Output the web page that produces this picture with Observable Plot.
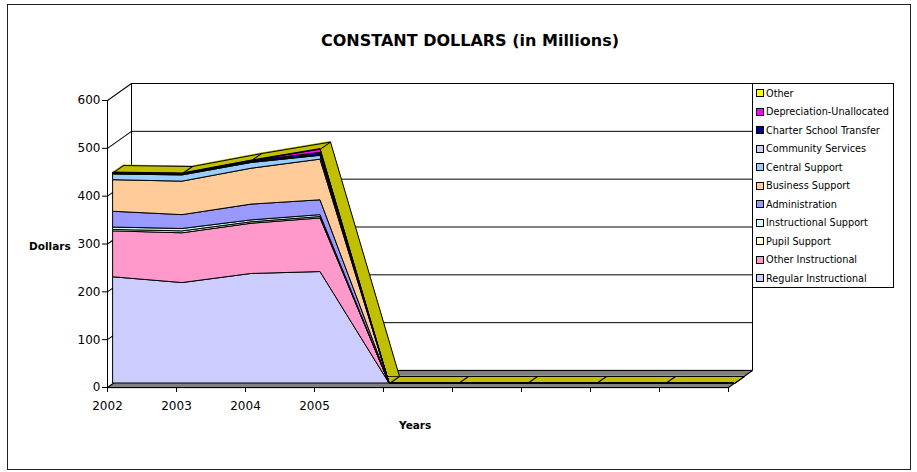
<!DOCTYPE html>
<html>
<head>
<meta charset="utf-8">
<script src="https://cdn.jsdelivr.net/npm/d3@7"></script>
<script src="https://cdn.jsdelivr.net/npm/@observablehq/plot@0.6"></script>
<style>
  html, body { margin: 0; padding: 0; background: #fff; }
  #chart { position: relative; width: 917px; height: 472px; font-family: "DejaVu Sans", sans-serif; color: #000; overflow: hidden; }
  #frame { position: absolute; left: 7px; top: 4px; width: 904px; height: 466px; border: 1px solid #222; box-sizing: border-box; }
  #plot { position: absolute; left: 0; top: 0; }
  .lbl { position: absolute; font-weight: bold; white-space: nowrap; }
  #title { left: 0; width: 940px; top: 31px; text-align: center; font-size: 16px; }
  #ylab { left: 29px; top: 240px; font-size: 10.5px; }
  #xlab { left: 399px; top: 419px; font-size: 10.5px; }
  #legend { position: absolute; left: 752px; top: 83px; width: 142px; height: 205px; border: 1px solid #000; box-sizing: border-box; padding-top: 0px; background: #fff; }
  .row { height: 18.5px; display: flex; align-items: center; font-size: 9.7px; white-space: nowrap; }
  .sw { width: 6px; height: 6px; border: 1px solid #000; margin: 0 2px 0 3px; flex: none; }
</style>
</head>
<body>
<div id="chart">
  <div id="frame"></div>
  <div id="plot"></div>
  <div id="title" class="lbl">CONSTANT DOLLARS (in Millions)</div>
  <div id="ylab" class="lbl">Dollars</div>
  <div id="xlab" class="lbl">Years</div>
  <div id="legend"></div>
</div>
<script>
// ---- data ----
const categories = ["2002", "2003", "2004", "2005", "", "", "", "", "", ""];
const seriesNames = [
  "Regular Instructional", "Other Instructional", "Pupil Support", "Instructional Support",
  "Administration", "Business Support", "Central Support", "Community Services",
  "Charter School Transfer", "Depreciation-Unallocated", "Other"
];
const regularInstructional   = [222, 210, 229, 233, 0, 0, 0, 0, 0, 0];
const otherInstructional     = [96, 104, 105, 112, 0, 0, 0, 0, 0, 0];
const pupilSupport           = [3, 4, 3, 3, 0, 0, 0, 0, 0, 0];
const instructionalSupport   = [5, 5, 4, 4, 0, 0, 0, 0, 0, 0];
const administration         = [33, 29, 33, 31, 0, 0, 0, 0, 0, 0];
const businessSupport        = [66, 70, 75, 85, 0, 0, 0, 0, 0, 0];
const centralSupport         = [12, 13, 12, 8, 0, 0, 0, 0, 0, 0];
const communityServices      = [1, 1, 1, 1, 0, 0, 0, 0, 0, 0];
const charterSchoolTransfer  = [2, 2, 3, 5, 0, 0, 0, 0, 0, 0];
const depreciationUnalloc    = [0, 0, 0, 7, 0, 0, 0, 0, 0, 0];
const other                  = [1, 1, 1, 1, 0, 0, 0, 0, 0, 0];
const yTicks = [0, 100, 200, 300, 400, 500, 600];
const colors = ["#ccccff", "#ff99cc", "#ffffcc", "#ccffff", "#9999ff", "#ffcc99",
                "#99ccff", "#ccccff", "#000080", "#ff00ff", "#ffff00"];

const seriesValues = [regularInstructional, otherInstructional, pupilSupport, instructionalSupport,
  administration, businessSupport, centralSupport, communityServices, charterSchoolTransfer,
  depreciationUnalloc, other];

// long table, bottom series first
const rows = [];
seriesNames.forEach((s, k) => seriesValues[k].forEach((v, i) => rows.push({i, series: s, value: v})));
const totals = categories.map((c, i) => ({i, total: d3.sum(seriesValues, arr => arr[i])}));
const idx = d3.range(categories.length);

// ---- 3D projection offsets (pixels) ----
const wall = {dx: 24, dy: -17};   // back wall depth
const front = {dx: 6, dy: -4};    // area front face
const depth = {dx: 10, dy: -7};   // area thickness
const seg = {draw(ctx, l) { ctx.moveTo(0, 0); ctx.lineTo(0, -l); }};
const ang = (o) => Math.atan2(o.dx, -o.dy) * 180 / Math.PI;
const len = (o) => Math.hypot(o.dx, o.dy);

const marks = [];
// floor (gray slab)
for (let k = 0; k <= 17; k++) {
  marks.push(Plot.ruleY([0], {x1: 0, x2: categories.length - 1, dx: wall.dx * k / 17, dy: wall.dy * k / 17, stroke: "#808080", strokeWidth: 1.6}));
}
// back wall gridlines and edges
marks.push(Plot.ruleY(yTicks, {x1: 0, x2: categories.length - 1, dx: wall.dx, dy: wall.dy, stroke: "#000"}));
marks.push(Plot.ruleX([0, categories.length - 1], {y1: 0, y2: 600, dx: wall.dx, dy: wall.dy, stroke: "#000"}));
// side wall diagonals
marks.push(Plot.vector(yTicks, {x: 0, y: d => d, length: len(wall), rotate: ang(wall), anchor: "start", shape: seg, stroke: "#000", strokeWidth: 1}));
marks.push(Plot.vector([0], {x: categories.length - 1, y: d => d, length: len(wall), rotate: ang(wall), anchor: "start", shape: seg, stroke: "#000", strokeWidth: 1}));
// front axis lines
marks.push(Plot.ruleX([0], {y1: 0, y2: 600, stroke: "#000"}));
marks.push(Plot.ruleY([0], {x1: 0, x2: categories.length - 1, stroke: "#000"}));

// top face sweep (olive)
const N = 12;
for (let k = 1; k <= N; k++) {
  marks.push(Plot.areaY(totals, {x: "i", y: "total", dx: front.dx + depth.dx * k / N, dy: front.dy + depth.dy * k / N, fill: "#c0c000", stroke: "#c0c000", strokeWidth: 1.2}));
}
// top face outlines
marks.push(Plot.lineY(totals, {x: "i", y: "total", dx: front.dx + depth.dx, dy: front.dy + depth.dy, stroke: "#000", strokeWidth: 1}));
marks.push(Plot.vector(totals, {x: "i", y: "total", dx: front.dx, dy: front.dy, length: len(depth), rotate: ang(depth), anchor: "start", shape: seg, stroke: "#000", strokeWidth: 1}));
marks.push(Plot.vector(totals, {x: "i", y: 0, dx: front.dx, dy: front.dy, length: len(depth), rotate: ang(depth), anchor: "start", shape: seg, stroke: "#000", strokeWidth: 0.8, filter: d => d.i === categories.length - 1}));
marks.push(Plot.lineY(totals, {x: "i", y: 0, dx: front.dx + depth.dx, dy: front.dy + depth.dy, stroke: "#000", strokeWidth: 0.8}));

// front stacked areas
marks.push(Plot.areaY(rows, {x: "i", y: "value", z: "series", fill: "series", dx: front.dx, dy: front.dy, stroke: "#000", strokeWidth: 1, strokeLinejoin: "round"}));

// axes
marks.push(Plot.axisY(yTicks, {tickSize: 5, tickPadding: 2, label: null, fontSize: 12}));
marks.push(Plot.axisX(idx, {tickSize: 5, tickPadding: 9, label: null, fontSize: 12, tickFormat: i => categories[i]}));

const chart = Plot.plot({
  width: 917,
  height: 472,
  marginLeft: 107,
  marginRight: 189,
  marginTop: 100,
  marginBottom: 85,
  style: {background: "transparent", fontFamily: "DejaVu Sans, sans-serif", color: "#000", overflow: "visible"},
  x: {type: "linear", domain: [0, categories.length - 1]},
  y: {domain: [0, 600]},
  color: {domain: seriesNames, range: colors},
  marks
});
document.getElementById("plot").appendChild(chart);

// legend (top of stack first)
const leg = document.getElementById("legend");
seriesNames.slice().reverse().forEach(name => {
  const k = seriesNames.indexOf(name);
  const r = document.createElement("div");
  r.className = "row";
  const sw = document.createElement("span");
  sw.className = "sw";
  sw.style.background = colors[k];
  const t = document.createElement("span");
  t.textContent = name;
  r.appendChild(sw); r.appendChild(t);
  leg.appendChild(r);
});
</script>
</body>
</html>
